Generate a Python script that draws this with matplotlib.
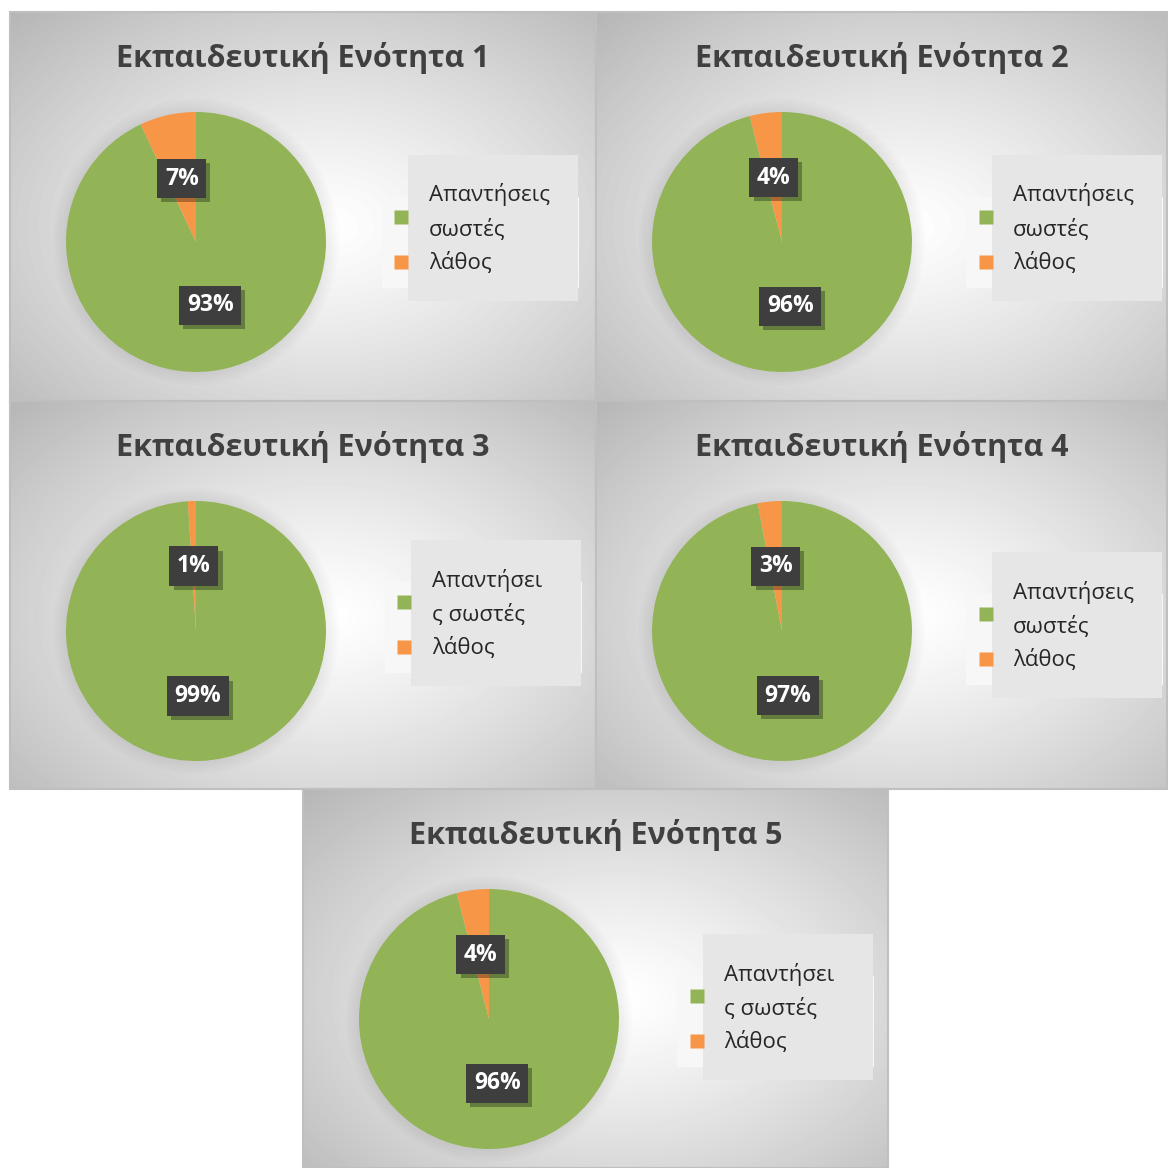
import numpy as np
import matplotlib
matplotlib.use("Agg")
from matplotlib import pyplot as plt
from matplotlib import patheffects as pe
from matplotlib.patches import Rectangle, Circle

plt.rcParams["font.family"] = ["Open Sans", "DejaVu Sans"]

titles = [
    "Εκπαιδευτική Ενότητα 1",
    "Εκπαιδευτική Ενότητα 2",
    "Εκπαιδευτική Ενότητα 3",
    "Εκπαιδευτική Ενότητα 4",
    "Εκπαιδευτική Ενότητα 5",
]
categories = ["Απαντήσεις σωστές", "λάθος"]
correct = [93, 96, 99, 97, 96]
wrong = [7, 4, 1, 3, 4]
# where Excel broke the first legend entry in each chart
wrap_at = [10, 10, 9, 10, 9]

colors = ["#92b456", "#f79646"]

W, H = 1168, 1168
fig = plt.figure(figsize=(W / 100, H / 100), dpi=100)
fig.patch.set_facecolor("white")

# panel rects in pixels: x, y (from top), w, h
panels = [
    (10, 12, 586, 389),
    (596, 12, 571, 389),
    (10, 401, 586, 388),
    (596, 401, 571, 388),
    (303, 789, 585, 379),
]
legend_pos = [(398, 143), (396, 143), (401, 139), (396, 151), (400, 145)]
pie_c = (186, 230)
pie_r = 130
pad_r = 1.15


def px_rect(x, y, w, h):
    return [x / W, 1 - (y + h) / H, w / W, h / H]


def gradient(w, h):
    yy, xx = np.mgrid[0:h, 0:w]
    cx, cy = w * 0.54, h * 0.55
    d = np.sqrt(((xx - cx) / (w * 0.5)) ** 2 + ((yy - cy) / (h * 0.5)) ** 2) / np.sqrt(2)
    return 1 - 0.26 * np.clip(d, 0, 1.2) ** 1.2


for i, (px, py, pw, ph) in enumerate(panels):
    bg = fig.add_axes(px_rect(px, py, pw, ph))
    bg.imshow(gradient(pw, ph), cmap="gray", vmin=0, vmax=1,
              extent=[0, 1, 0, 1], aspect="auto", origin="upper")
    bg.set_xlim(0, 1)
    bg.set_ylim(0, 1)
    bg.axis("off")
    bg.add_patch(Rectangle((0, 0), 1, 1, fill=False, ec="#bfbfbf", lw=1.5,
                           transform=bg.transAxes, clip_on=False))

    def rel(rx, ry):
        return rx / pw, 1 - ry / ph

    bg.text(0.5, 1 - 46 / ph, titles[i], ha="center", va="center",
            fontsize=22, fontweight="bold", color="#404040")

    # legend: back strip with markers, front box with text
    lx, ly = legend_pos[i]
    bx, by = rel(lx - 26, ly + 133)
    bg.add_patch(Rectangle((bx, by), 197 / pw, 91 / ph, fc="#f7f7f7", ec="none", zorder=2))
    fx, fy = rel(lx, ly + 146)
    bg.add_patch(Rectangle((fx, fy), 170 / pw, 146 / ph, fc="#e7e6e6", ec="none", zorder=3))
    for k, my in enumerate([62, 107]):
        mx, myy = rel(lx - 6.5, ly + my)
        bg.plot(mx, myy, marker="s", ms=9.4, color=colors[k], mec="none", zorder=4)
    name = categories[0]
    lines = [name[:wrap_at[i]], name[wrap_at[i]:].strip(), categories[1]]
    for k, (txt, dy) in enumerate(zip(lines, [40, 75, 108])):
        tx, ty = rel(lx + 21, ly + dy)
        bg.text(tx, ty, txt, ha="left", va="center", fontsize=16,
                color="#262626", zorder=5)

    # pie
    s = pie_r * pad_r
    ax = fig.add_axes(px_rect(px + pie_c[0] - s, py + pie_c[1] - s, 2 * s, 2 * s))
    for r in np.linspace(1.0, 1.1, 6):
        ax.add_patch(Circle((0, 0), r, color="black", alpha=0.012, lw=0, zorder=0))
    wedges, _, autotexts = ax.pie(
        [correct[i], wrong[i]], colors=colors, startangle=90, counterclock=False,
        autopct="%1.0f%%", pctdistance=0.5, radius=1,
        wedgeprops=dict(linewidth=0, zorder=1),
        textprops=dict(color="white", fontsize=16.5, fontweight="bold"),
    )
    for t in autotexts:
        t.set_zorder(3)
        t.set_bbox(dict(boxstyle="square,pad=0.33", fc="#3e3e3e", ec="none"))
        t.get_bbox_patch().set_path_effects(
            [pe.SimplePatchShadow(offset=(3, -3), shadow_rgbFace="black", alpha=0.3),
             pe.Normal()])
    ax.set_xlim(-pad_r, pad_r)
    ax.set_ylim(-pad_r, pad_r)
    ax.set_aspect("equal")
    ax.axis("off")

fig.savefig("out.png", dpi=100, facecolor="white")
